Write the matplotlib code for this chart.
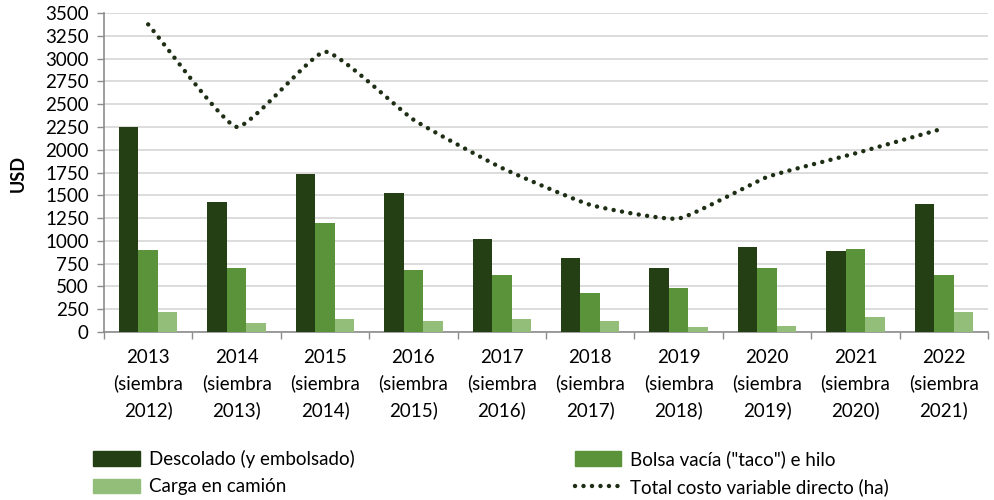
import numpy as np
import matplotlib
matplotlib.use("Agg")
import matplotlib.pyplot as plt
from matplotlib.patches import Patch
from matplotlib.lines import Line2D

plt.rcParams['font.family'] = ['Lato', 'DejaVu Sans']

years = ["2013", "2014", "2015", "2016", "2017", "2018", "2019", "2020", "2021", "2022"]
siembra = ["2012", "2013", "2014", "2015", "2016", "2017", "2018", "2019", "2020", "2021"]
descolado = [2250, 1430, 1730, 1525, 1025, 815, 700, 935, 890, 1405]
bolsa = [905, 700, 1200, 680, 620, 430, 480, 700, 910, 625]
carga = [215, 100, 145, 125, 140, 120, 50, 70, 160, 215]
total = [3375, 2250, 3075, 2330, 1800, 1395, 1245, 1700, 1960, 2235]

labels = ["Descolado (y embolsado)", "Bolsa vacía (\"taco\") e hilo",
          "Carga en camión", "Total costo variable directo (ha)"]
c_dark, c_mid, c_light, c_line = "#253f15", "#5a9339", "#93be79", "#1e2e15"

fig = plt.figure(figsize=(9.94, 5.0), dpi=100)
ax = fig.add_axes([0.1046, 0.336, 0.8894, 0.638])

x = np.arange(len(years))
w = 0.22
ax.bar(x - w, descolado, w, color=c_dark, zorder=3)
ax.bar(x, bolsa, w, color=c_mid, zorder=3)
ax.bar(x + w, carga, w, color=c_light, zorder=3)

ax.set_xlim(-0.5, len(years) - 0.5)
ax.set_ylim(0, 3500)

# gently smoothed line (cubic Hermite with reduced tangents)
def smooth_line(P, s=0.22, n=30):
    P = np.asarray(P, float)
    m = np.zeros_like(P)
    m[1:-1] = s * (P[2:] - P[:-2])
    m[0] = 2 * s * (P[1] - P[0])
    m[-1] = 2 * s * (P[-1] - P[-2])
    out = []
    for i in range(len(P) - 1):
        t = np.linspace(0, 1, n, endpoint=(i == len(P) - 2))[:, None]
        h00 = 2 * t**3 - 3 * t**2 + 1
        h10 = t**3 - 2 * t**2 + t
        h01 = -2 * t**3 + 3 * t**2
        h11 = t**3 - t**2
        out.append(h00 * P[i] + h10 * m[i] + h01 * P[i + 1] + h11 * m[i + 1])
    return np.vstack(out)

sm = smooth_line(np.column_stack([x, total]))
ax.plot(sm[:, 0], sm[:, 1], color=c_line, lw=3.2, linestyle=(0, (0.01, 1.9)),
        dash_capstyle='round', zorder=4)

ax.set_yticks(np.arange(0, 3501, 250))
ax.yaxis.grid(True, color="#d9d9d9", lw=1.3, zorder=0)
ax.set_axisbelow(True)

ax.set_xticks(x)
ax.set_xticklabels([f"{y}\n(siembra\n{s})" for y, s in zip(years, siembra)],
                   fontsize=13.5, linespacing=1.6)
ax.set_xticks(np.arange(-0.5, len(years), 1), minor=True)
ax.tick_params(axis='x', which='major', length=0, pad=12)
ax.tick_params(axis='x', which='minor', length=5, color="#8c8c8c", width=1)
ax.tick_params(axis='y', length=5, color="#8c8c8c", width=1, pad=6, labelsize=13.5)

for s in ["top", "right"]:
    ax.spines[s].set_visible(False)
for s in ["left", "bottom"]:
    ax.spines[s].set_color("#8c8c8c")
    ax.spines[s].set_linewidth(1.2)

fig.text(0.018, 0.335 + 0.638 / 2, "USD", rotation=90, fontsize=13, fontweight='bold',
         va='center', ha='center')

h1 = [Patch(color=c_dark), Patch(color=c_light)]
h2 = [Patch(color=c_mid), Line2D([], [], color=c_line, lw=3.2, linestyle=(0, (0.01, 1.9)),
                                 dash_capstyle='round')]
kw = dict(frameon=False, fontsize=13.5, handlelength=2.5, handleheight=0.8,
          handletextpad=0.45, labelspacing=0.55, borderpad=0, borderaxespad=0)
fig.legend(h1, [labels[0], labels[2]], loc='upper left', bbox_to_anchor=(0.094, 0.100), **kw)
fig.legend(h2, [labels[1], labels[3]], loc='upper left', bbox_to_anchor=(0.578, 0.100), **kw)

fig.savefig("out.png", dpi=100)
